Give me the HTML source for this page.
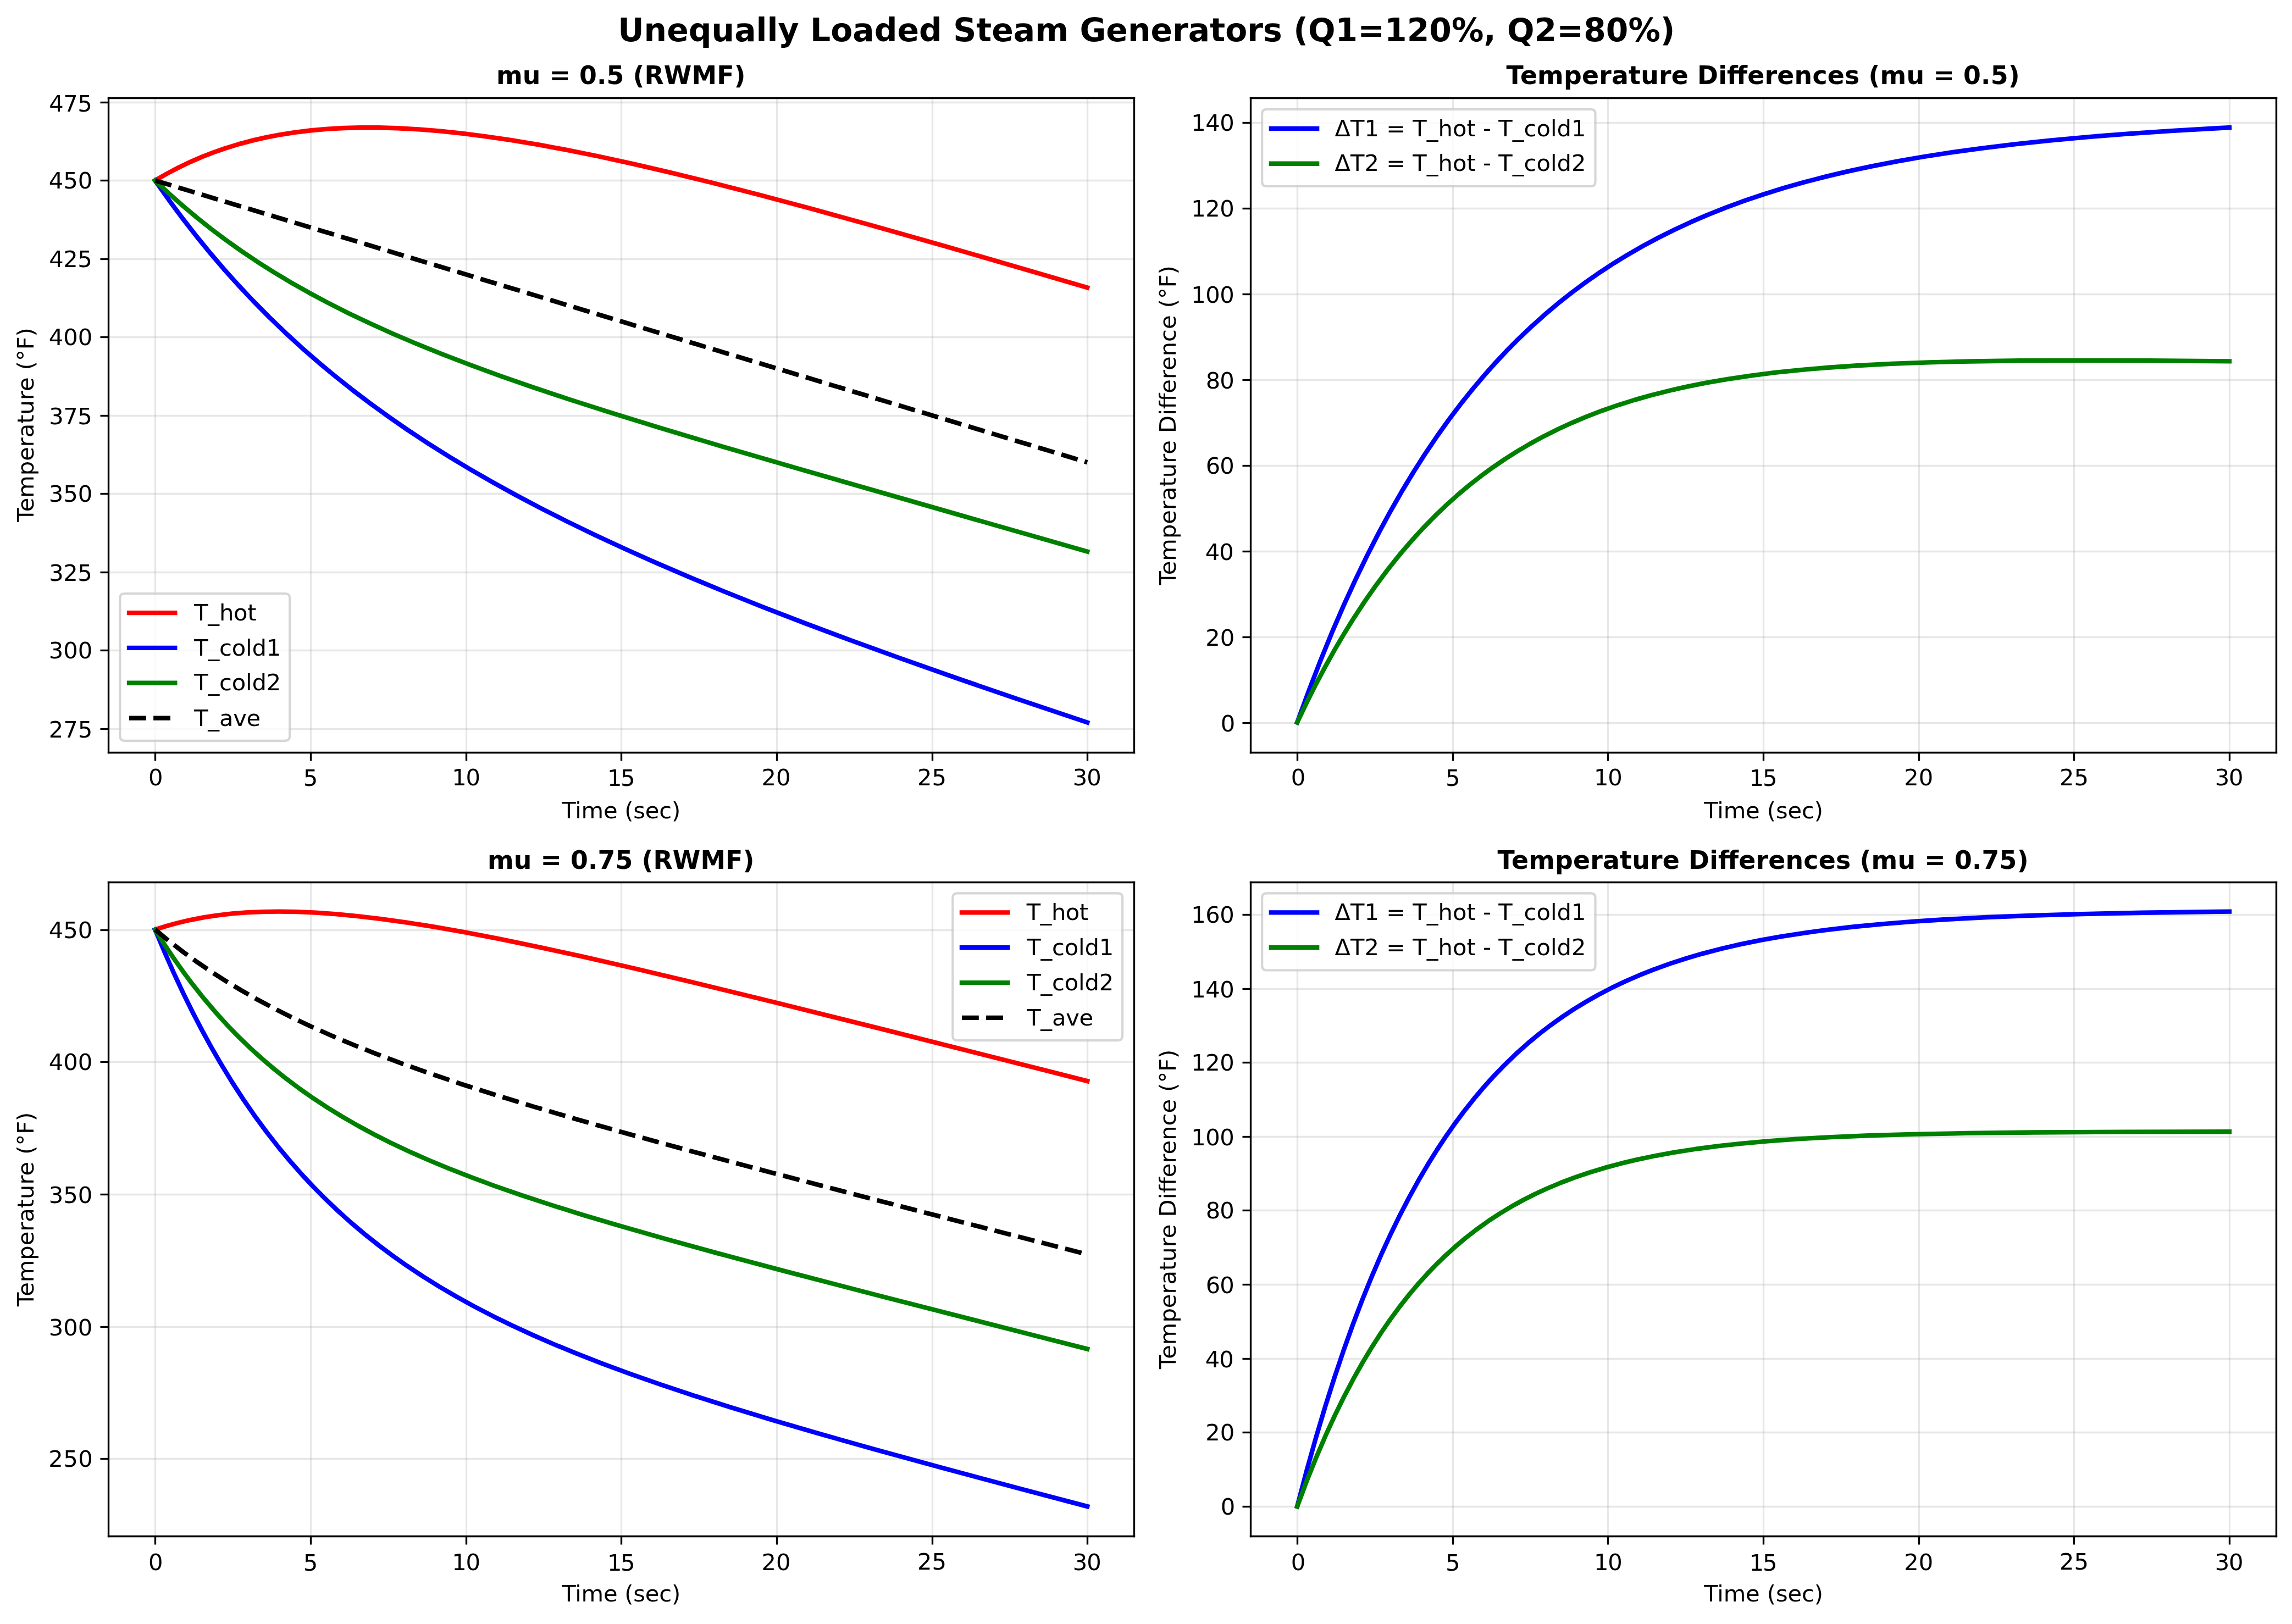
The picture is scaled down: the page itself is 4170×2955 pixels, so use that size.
<!DOCTYPE html>
<html lang="en"><head><meta charset="utf-8"><title>Unequally Loaded Steam Generators</title>
<style>
html,body{margin:0;padding:0;background:#fff;}
body{width:4170px;height:2955px;overflow:hidden;font-family:"DejaVu Sans","Liberation Sans",sans-serif;}
svg{display:block;will-change:transform;}
svg text{font-family:"DejaVu Sans","Liberation Sans",sans-serif;}
</style></head><body>
<svg width="4170" height="2955" viewBox="0 0 1000.8 709.2">
 <defs>
  <style type="text/css">*{stroke-linejoin: round; stroke-linecap: butt}</style>
 </defs>
 <g id="figure_1">
  <g id="patch_1">
   <path d="M 0 709.2 L 1001.01 709.2 L 1001.01 0 L 0 0 z" style="fill: #ffffff"/>
  </g>
  <g id="axes_1">
   <g id="patch_2">
    <path d="M 47.39 328.48 L 495.12 328.48 L 495.12 42.72 L 47.39 42.72 z" style="fill: #ffffff"/>
   </g>
   <g id="matplotlib.axis_1">
    <g id="xtick_1">
     <g id="line2d_1">
      <path d="M 67.800000 328.680000 L 67.800000 42.840000" clip-path="url(#p51428ca9a6)" style="fill: none; stroke: #b0b0b0; stroke-opacity: 0.3; stroke-width: 0.8; stroke-linecap: square"/>
     </g>
     <g id="line2d_2">
      <defs>
       <path id="m1504cfccaf" d="M 0.120000 0.120000 L 0.120000 3.720000" style="stroke: #000000; stroke-width: 0.8"/>
      </defs>
      <g>
       <use href="#m1504cfccaf" x="67.680000" y="328.560000" style="stroke: #000000; stroke-width: 0.8"/>
      </g>
     </g>
     <g id="text_1">
      <text style="font-size: 10px; text-anchor: middle" x="67.9814" y="343.0400">0</text>
     </g>
    </g>
    <g id="xtick_2">
     <g id="line2d_3">
      <path d="M 135.720000 328.680000 L 135.720000 42.840000" clip-path="url(#p51428ca9a6)" style="fill: none; stroke: #b0b0b0; stroke-opacity: 0.3; stroke-width: 0.8; stroke-linecap: square"/>
     </g>
     <g id="line2d_4">
      <g>
       <use href="#m1504cfccaf" x="135.600000" y="328.560000" style="stroke: #000000; stroke-width: 0.8"/>
      </g>
     </g>
     <g id="text_2">
      <text style="font-size: 10px; text-anchor: middle" x="135.5792" y="343.2800">5</text>
     </g>
    </g>
    <g id="xtick_3">
     <g id="line2d_5">
      <path d="M 203.640000 328.680000 L 203.640000 42.840000" clip-path="url(#p51428ca9a6)" style="fill: none; stroke: #b0b0b0; stroke-opacity: 0.3; stroke-width: 0.8; stroke-linecap: square"/>
     </g>
     <g id="line2d_6">
      <g>
       <use href="#m1504cfccaf" x="203.520000" y="328.560000" style="stroke: #000000; stroke-width: 0.8"/>
      </g>
     </g>
     <g id="text_3">
      <text style="font-size: 10px; text-anchor: middle" x="203.5371" y="343.0400" textLength="12.4410" lengthAdjust="spacing">10</text>
     </g>
    </g>
    <g id="xtick_4">
     <g id="line2d_7">
      <path d="M 271.320000 328.680000 L 271.320000 42.840000" clip-path="url(#p51428ca9a6)" style="fill: none; stroke: #b0b0b0; stroke-opacity: 0.3; stroke-width: 0.8; stroke-linecap: square"/>
     </g>
     <g id="line2d_8">
      <g>
       <use href="#m1504cfccaf" x="271.200000" y="328.560000" style="stroke: #000000; stroke-width: 0.8"/>
      </g>
     </g>
     <g id="text_4">
      <text style="font-size: 10px; text-anchor: middle" x="271.2550" y="343.2800" textLength="12.1648" lengthAdjust="spacing">15</text>
     </g>
    </g>
    <g id="xtick_5">
     <g id="line2d_9">
      <path d="M 339.240000 328.680000 L 339.240000 42.840000" clip-path="url(#p51428ca9a6)" style="fill: none; stroke: #b0b0b0; stroke-opacity: 0.3; stroke-width: 0.8; stroke-linecap: square"/>
     </g>
     <g id="line2d_10">
      <g>
       <use href="#m1504cfccaf" x="339.120000" y="328.560000" style="stroke: #000000; stroke-width: 0.8"/>
      </g>
     </g>
     <g id="text_5">
      <text style="font-size: 10px; text-anchor: middle" x="338.8529" y="343.0400">20</text>
     </g>
    </g>
    <g id="xtick_6">
     <g id="line2d_11">
      <path d="M 407.160000 328.680000 L 407.160000 42.840000" clip-path="url(#p51428ca9a6)" style="fill: none; stroke: #b0b0b0; stroke-opacity: 0.3; stroke-width: 0.8; stroke-linecap: square"/>
     </g>
     <g id="line2d_12">
      <g>
       <use href="#m1504cfccaf" x="407.040000" y="328.560000" style="stroke: #000000; stroke-width: 0.8"/>
      </g>
     </g>
     <g id="text_6">
      <text style="font-size: 10px; text-anchor: middle" x="406.9308" y="342.9200">25</text>
     </g>
    </g>
    <g id="xtick_7">
     <g id="line2d_13">
      <path d="M 474.840000 328.680000 L 474.840000 42.840000" clip-path="url(#p51428ca9a6)" style="fill: none; stroke: #b0b0b0; stroke-opacity: 0.3; stroke-width: 0.8; stroke-linecap: square"/>
     </g>
     <g id="line2d_14">
      <g>
       <use href="#m1504cfccaf" x="474.720000" y="328.560000" style="stroke: #000000; stroke-width: 0.8"/>
      </g>
     </g>
     <g id="text_7">
      <text style="font-size: 10px; text-anchor: middle" x="474.6486" y="343.0400" textLength="12.4530" lengthAdjust="spacing">30</text>
     </g>
    </g>
    <g id="text_8">
     <text style="font-size: 10px; text-anchor: middle" x="271.2550" y="357.3600" textLength="51.8184" lengthAdjust="spacing">Time (sec)</text>
    </g>
   </g>
   <g id="matplotlib.axis_2">
    <g id="ytick_1">
     <g id="line2d_15">
      <path d="M 47.400000 318.360000 L 495.240000 318.360000" clip-path="url(#p51428ca9a6)" style="fill: none; stroke: #b0b0b0; stroke-opacity: 0.3; stroke-width: 0.8; stroke-linecap: square"/>
     </g>
     <g id="line2d_16">
      <defs>
       <path id="m5d545ce8f8" d="M 0.120000 0.120000 L -3.480000 0.120000" style="stroke: #000000; stroke-width: 0.8"/>
      </defs>
      <g>
       <use href="#m5d545ce8f8" x="47.280000" y="318.240000" style="stroke: #000000; stroke-width: 0.8"/>
      </g>
     </g>
     <g id="text_9">
      <text style="font-size: 10px; text-anchor: end" x="40.3900" y="321.9763">275</text>
     </g>
    </g>
    <g id="ytick_2">
     <g id="line2d_17">
      <path d="M 47.400000 284.040000 L 495.240000 284.040000" clip-path="url(#p51428ca9a6)" style="fill: none; stroke: #b0b0b0; stroke-opacity: 0.3; stroke-width: 0.8; stroke-linecap: square"/>
     </g>
     <g id="line2d_18">
      <g>
       <use href="#m5d545ce8f8" x="47.280000" y="283.920000" style="stroke: #000000; stroke-width: 0.8"/>
      </g>
     </g>
     <g id="text_10">
      <text style="font-size: 10px; text-anchor: end" x="40.3900" y="287.5484">300</text>
     </g>
    </g>
    <g id="ytick_3">
     <g id="line2d_19">
      <path d="M 47.400000 249.960000 L 495.240000 249.960000" clip-path="url(#p51428ca9a6)" style="fill: none; stroke: #b0b0b0; stroke-opacity: 0.3; stroke-width: 0.8; stroke-linecap: square"/>
     </g>
     <g id="line2d_20">
      <g>
       <use href="#m5d545ce8f8" x="47.280000" y="249.840000" style="stroke: #000000; stroke-width: 0.8"/>
      </g>
     </g>
     <g id="text_11">
      <text style="font-size: 10px; text-anchor: end" x="40.2700" y="253.6005" textLength="18.8223" lengthAdjust="spacing">325</text>
     </g>
    </g>
    <g id="ytick_4">
     <g id="line2d_21">
      <path d="M 47.400000 215.640000 L 495.240000 215.640000" clip-path="url(#p51428ca9a6)" style="fill: none; stroke: #b0b0b0; stroke-opacity: 0.3; stroke-width: 0.8; stroke-linecap: square"/>
     </g>
     <g id="line2d_22">
      <g>
       <use href="#m5d545ce8f8" x="47.280000" y="215.520000" style="stroke: #000000; stroke-width: 0.8"/>
      </g>
     </g>
     <g id="text_12">
      <text style="font-size: 10px; text-anchor: end" x="40.3900" y="219.1727">350</text>
     </g>
    </g>
    <g id="ytick_5">
     <g id="line2d_23">
      <path d="M 47.400000 181.560000 L 495.240000 181.560000" clip-path="url(#p51428ca9a6)" style="fill: none; stroke: #b0b0b0; stroke-opacity: 0.3; stroke-width: 0.8; stroke-linecap: square"/>
     </g>
     <g id="line2d_24">
      <g>
       <use href="#m5d545ce8f8" x="47.280000" y="181.440000" style="stroke: #000000; stroke-width: 0.8"/>
      </g>
     </g>
     <g id="text_13">
      <text style="font-size: 10px; text-anchor: end" x="40.2700" y="185.2248" textLength="18.8223" lengthAdjust="spacing">375</text>
     </g>
    </g>
    <g id="ytick_6">
     <g id="line2d_25">
      <path d="M 47.400000 147.240000 L 495.240000 147.240000" clip-path="url(#p51428ca9a6)" style="fill: none; stroke: #b0b0b0; stroke-opacity: 0.3; stroke-width: 0.8; stroke-linecap: square"/>
     </g>
     <g id="line2d_26">
      <g>
       <use href="#m5d545ce8f8" x="47.280000" y="147.120000" style="stroke: #000000; stroke-width: 0.8"/>
      </g>
     </g>
     <g id="text_14">
      <text style="font-size: 10px; text-anchor: end" x="40.3900" y="150.7969">400</text>
     </g>
    </g>
    <g id="ytick_7">
     <g id="line2d_27">
      <path d="M 47.400000 113.160000 L 495.240000 113.160000" clip-path="url(#p51428ca9a6)" style="fill: none; stroke: #b0b0b0; stroke-opacity: 0.3; stroke-width: 0.8; stroke-linecap: square"/>
     </g>
     <g id="line2d_28">
      <g>
       <use href="#m5d545ce8f8" x="47.280000" y="113.040000" style="stroke: #000000; stroke-width: 0.8"/>
      </g>
     </g>
     <g id="text_15">
      <text style="font-size: 10px; text-anchor: end" x="40.2700" y="116.7290" textLength="18.8259" lengthAdjust="spacing">425</text>
     </g>
    </g>
    <g id="ytick_8">
     <g id="line2d_29">
      <path d="M 47.400000 78.840000 L 495.240000 78.840000" clip-path="url(#p51428ca9a6)" style="fill: none; stroke: #b0b0b0; stroke-opacity: 0.3; stroke-width: 0.8; stroke-linecap: square"/>
     </g>
     <g id="line2d_30">
      <g>
       <use href="#m5d545ce8f8" x="47.280000" y="78.720000" style="stroke: #000000; stroke-width: 0.8"/>
      </g>
     </g>
     <g id="text_16">
      <text style="font-size: 10px; text-anchor: end" x="40.3900" y="82.3011">450</text>
     </g>
    </g>
    <g id="ytick_9">
     <g id="line2d_31">
      <path d="M 47.400000 44.760000 L 495.240000 44.760000" clip-path="url(#p51428ca9a6)" style="fill: none; stroke: #b0b0b0; stroke-opacity: 0.3; stroke-width: 0.8; stroke-linecap: square"/>
     </g>
     <g id="line2d_32">
      <g>
       <use href="#m5d545ce8f8" x="47.280000" y="44.640000" style="stroke: #000000; stroke-width: 0.8"/>
      </g>
     </g>
     <g id="text_17">
      <text style="font-size: 10px; text-anchor: end" x="40.2700" y="48.7132" textLength="18.8259" lengthAdjust="spacing">475</text>
     </g>
    </g>
    <g id="text_18">
     <text style="font-size: 10px; text-anchor: middle" x="14.6400" y="185.4800" transform="rotate(-90 14.6400 185.4800)" textLength="84.8152" lengthAdjust="spacing">Temperature (°F)</text>
    </g>
   </g>
   <g id="line2d_33">
    <path d="M 67.741364 78.821124 L 72.829205 75.879947 L 77.917045 73.199643 L 83.004886 70.765021 L 88.092727 68.561773 L 93.180568 66.576425 L 98.268409 64.796287 L 104.373818 62.914222 L 110.479227 61.291153 L 116.584636 59.909087 L 122.690045 58.751282 L 128.795455 57.802158 L 135.918432 56.939315 L 143.041409 56.319521 L 150.164386 55.923195 L 157.287364 55.732333 L 165.427909 55.744619 L 173.568455 55.981099 L 182.726568 56.489643 L 191.884682 57.229617 L 202.060364 58.294509 L 212.236045 59.586919 L 223.429295 61.240737 L 235.640114 63.288056 L 247.850932 65.555986 L 261.079318 68.227647 L 276.342841 71.546921 L 292.623932 75.321912 L 310.940159 79.806692 L 331.291523 85.028039 L 354.695591 91.275803 L 381.152364 98.576623 L 412.696977 107.521889 L 451.364568 118.732145 L 474.768636 125.607823 L 474.768636 125.607823" clip-path="url(#p51428ca9a6)" style="fill: none; stroke: #ff0000; stroke-width: 2; stroke-linecap: square"/>
   </g>
   <g id="line2d_34">
    <path d="M 67.741364 78.821124 L 73.846773 87.461672 L 79.952182 95.679699 L 86.057591 103.502809 L 92.163 110.956748 L 98.268409 118.065534 L 104.373818 124.851573 L 110.479227 131.335773 L 117.602205 138.545131 L 124.725182 145.398896 L 131.848159 151.92359 L 138.971136 158.143687 L 146.094114 164.081771 L 153.217091 169.758688 L 161.357636 175.951414 L 169.498182 181.854487 L 177.638727 187.491987 L 186.796841 193.544041 L 195.954955 199.316208 L 205.113068 204.834187 L 215.28875 210.695324 L 225.464432 216.299911 L 236.657682 222.199133 L 247.850932 227.849212 L 260.06175 233.760267 L 273.290136 239.900873 L 286.518523 245.801027 L 300.764477 251.919965 L 316.028 258.240684 L 333.326659 265.151134 L 351.642886 272.218823 L 371.99425 279.819459 L 393.363182 287.562468 L 417.784818 296.167416 L 444.241591 305.251866 L 474.768636 315.490909 L 474.768636 315.490909" clip-path="url(#p51428ca9a6)" style="fill: none; stroke: #0000ff; stroke-width: 2; stroke-linecap: square"/>
   </g>
   <g id="line2d_35">
    <path d="M 67.741364 78.821124 L 73.846773 84.560375 L 79.952182 89.979695 L 86.057591 95.103059 L 92.163 99.952714 L 98.268409 104.549302 L 105.391386 109.617612 L 112.514364 114.395522 L 119.637341 118.908713 L 126.760318 123.180707 L 134.900864 127.795183 L 143.041409 132.151942 L 152.199523 136.778054 L 161.357636 141.145172 L 171.533318 145.730307 L 181.709 150.069447 L 192.90225 154.596699 L 205.113068 159.284279 L 218.341455 164.113634 L 232.587409 169.075348 L 248.8685 174.501042 L 267.184727 180.361209 L 288.553659 186.955225 L 315.010432 194.868625 L 349.60775 204.963879 L 408.626705 221.91083 L 474.768636 240.883478 L 474.768636 240.883478" clip-path="url(#p51428ca9a6)" style="fill: none; stroke: #008000; stroke-width: 2; stroke-linecap: square"/>
   </g>
   <g id="line2d_36">
    <path d="M 67.741364 78.821124 L 474.768636 201.897508 L 474.768636 201.897508" clip-path="url(#p51428ca9a6)" style="fill: none; stroke-dasharray: 7.4,3.2; stroke-dashoffset: 0; stroke: #000000; stroke-width: 2"/>
   </g>
   <g id="patch_3">
    <path d="M 47.400000 328.680000 L 47.400000 42.840000" style="fill: none; stroke: #000000; stroke-width: 0.8; stroke-linejoin: miter; stroke-linecap: square"/>
   </g>
   <g id="patch_4">
    <path d="M 495.240000 328.680000 L 495.240000 42.840000" style="fill: none; stroke: #000000; stroke-width: 0.8; stroke-linejoin: miter; stroke-linecap: square"/>
   </g>
   <g id="patch_5">
    <path d="M 47.400000 328.680000 L 495.240000 328.680000" style="fill: none; stroke: #000000; stroke-width: 0.8; stroke-linejoin: miter; stroke-linecap: square"/>
   </g>
   <g id="patch_6">
    <path d="M 47.400000 42.840000 L 495.240000 42.840000" style="fill: none; stroke: #000000; stroke-width: 0.8; stroke-linejoin: miter; stroke-linecap: square"/>
   </g>
   <g id="text_19">
    <text style="font-weight: 700; font-size: 11px; text-anchor: middle" x="271.1350" y="36.7200" textLength="108.8365" lengthAdjust="spacing">mu = 0.5 (RWMF)</text>
   </g>
   <g id="legend_1">
    <g id="patch_7">
     <path d="M 54.39 323.48 L 124.52 323.48 
Q 126.52 323.48 126.52 321.48 L 126.52 261.2 
Q 126.52 259.2 124.52 259.2 L 54.39 259.2 
Q 52.39 259.2 52.39 261.2 L 52.39 321.48 
Q 52.39 323.48 54.39 323.48 z" style="fill: #ffffff; opacity: 0.8; stroke: #cccccc; stroke-linejoin: miter"/>
    </g>
    <g id="line2d_37">
     <path d="M 56.39 267.62 L 76.39 267.62 L 76.39 267.62" style="fill: none; stroke: #ff0000; stroke-width: 2; stroke-linecap: square"/>
    </g>
    <g id="text_20">
     <text style="font-size: 10px; text-anchor: start" x="84.7500" y="270.8800" textLength="27.2411" lengthAdjust="spacing">T_hot</text>
    </g>
    <g id="line2d_38">
     <path d="M 56.39 282.94 L 76.39 282.94 L 76.39 282.94" style="fill: none; stroke: #0000ff; stroke-width: 2; stroke-linecap: square"/>
    </g>
    <g id="text_21">
     <text style="font-size: 10px; text-anchor: start" x="84.7500" y="286.2000" textLength="37.9617" lengthAdjust="spacing">T_cold1</text>
    </g>
    <g id="line2d_39">
     <path d="M 56.39 298.26 L 76.39 298.26 L 76.39 298.26" style="fill: none; stroke: #008000; stroke-width: 2; stroke-linecap: square"/>
    </g>
    <g id="text_22">
     <text style="font-size: 10px; text-anchor: start" x="84.7500" y="301.5200" textLength="37.9617" lengthAdjust="spacing">T_cold2</text>
    </g>
    <g id="line2d_40">
     <path d="M 56.39 313.58 L 76.39 313.58 L 76.39 313.58" style="fill: none; stroke-dasharray: 7.4,3.2; stroke-dashoffset: 0; stroke: #000000; stroke-width: 2"/>
    </g>
    <g id="text_23">
     <text style="font-size: 10px; text-anchor: start" x="84.7500" y="316.9600" textLength="29.0583" lengthAdjust="spacing">T_ave</text>
    </g>
   </g>
  </g>
  <g id="axes_2">
   <g id="patch_8">
    <path d="M 546.08 328.48 L 993.81 328.48 L 993.81 42.72 L 546.08 42.72 z" style="fill: #ffffff"/>
   </g>
   <g id="matplotlib.axis_3">
    <g id="xtick_8">
     <g id="line2d_41">
      <path d="M 566.520000 328.680000 L 566.520000 42.840000" clip-path="url(#p2e50a3cce2)" style="fill: none; stroke: #b0b0b0; stroke-opacity: 0.3; stroke-width: 0.8; stroke-linecap: square"/>
     </g>
     <g id="line2d_42">
      <g>
       <use href="#m1504cfccaf" x="566.400000" y="328.560000" style="stroke: #000000; stroke-width: 0.8"/>
      </g>
     </g>
     <g id="text_24">
      <text style="font-size: 10px; text-anchor: middle" x="566.9114" y="343.0400">0</text>
     </g>
    </g>
    <g id="xtick_9">
     <g id="line2d_43">
      <path d="M 634.440000 328.680000 L 634.440000 42.840000" clip-path="url(#p2e50a3cce2)" style="fill: none; stroke: #b0b0b0; stroke-opacity: 0.3; stroke-width: 0.8; stroke-linecap: square"/>
     </g>
     <g id="line2d_44">
      <g>
       <use href="#m1504cfccaf" x="634.320000" y="328.560000" style="stroke: #000000; stroke-width: 0.8"/>
      </g>
     </g>
     <g id="text_25">
      <text style="font-size: 10px; text-anchor: middle" x="634.3892" y="343.2800">5</text>
     </g>
    </g>
    <g id="xtick_10">
     <g id="line2d_45">
      <path d="M 702.120000 328.680000 L 702.120000 42.840000" clip-path="url(#p2e50a3cce2)" style="fill: none; stroke: #b0b0b0; stroke-opacity: 0.3; stroke-width: 0.8; stroke-linecap: square"/>
     </g>
     <g id="line2d_46">
      <g>
       <use href="#m1504cfccaf" x="702.000000" y="328.560000" style="stroke: #000000; stroke-width: 0.8"/>
      </g>
     </g>
     <g id="text_26">
      <text style="font-size: 10px; text-anchor: middle" x="702.2271" y="343.0400" textLength="12.4410" lengthAdjust="spacing">10</text>
     </g>
    </g>
    <g id="xtick_11">
     <g id="line2d_47">
      <path d="M 770.040000 328.680000 L 770.040000 42.840000" clip-path="url(#p2e50a3cce2)" style="fill: none; stroke: #b0b0b0; stroke-opacity: 0.3; stroke-width: 0.8; stroke-linecap: square"/>
     </g>
     <g id="line2d_48">
      <g>
       <use href="#m1504cfccaf" x="769.920000" y="328.560000" style="stroke: #000000; stroke-width: 0.8"/>
      </g>
     </g>
     <g id="text_27">
      <text style="font-size: 10px; text-anchor: middle" x="769.9450" y="343.2800" textLength="12.1583" lengthAdjust="spacing">15</text>
     </g>
    </g>
    <g id="xtick_12">
     <g id="line2d_49">
      <path d="M 837.960000 328.680000 L 837.960000 42.840000" clip-path="url(#p2e50a3cce2)" style="fill: none; stroke: #b0b0b0; stroke-opacity: 0.3; stroke-width: 0.8; stroke-linecap: square"/>
     </g>
     <g id="line2d_50">
      <g>
       <use href="#m1504cfccaf" x="837.840000" y="328.560000" style="stroke: #000000; stroke-width: 0.8"/>
      </g>
     </g>
     <g id="text_28">
      <text style="font-size: 10px; text-anchor: middle" x="837.7829" y="343.0400">20</text>
     </g>
    </g>
    <g id="xtick_13">
     <g id="line2d_51">
      <path d="M 905.640000 328.680000 L 905.640000 42.840000" clip-path="url(#p2e50a3cce2)" style="fill: none; stroke: #b0b0b0; stroke-opacity: 0.3; stroke-width: 0.8; stroke-linecap: square"/>
     </g>
     <g id="line2d_52">
      <g>
       <use href="#m1504cfccaf" x="905.520000" y="328.560000" style="stroke: #000000; stroke-width: 0.8"/>
      </g>
     </g>
     <g id="text_29">
      <text style="font-size: 10px; text-anchor: middle" x="905.6208" y="342.9200">25</text>
     </g>
    </g>
    <g id="xtick_14">
     <g id="line2d_53">
      <path d="M 973.560000 328.680000 L 973.560000 42.840000" clip-path="url(#p2e50a3cce2)" style="fill: none; stroke: #b0b0b0; stroke-opacity: 0.3; stroke-width: 0.8; stroke-linecap: square"/>
     </g>
     <g id="line2d_54">
      <g>
       <use href="#m1504cfccaf" x="973.440000" y="328.560000" style="stroke: #000000; stroke-width: 0.8"/>
      </g>
     </g>
     <g id="text_30">
      <text style="font-size: 10px; text-anchor: middle" x="973.3386" y="343.0400" textLength="12.4530" lengthAdjust="spacing">30</text>
     </g>
    </g>
    <g id="text_31">
     <text style="font-size: 10px; text-anchor: middle" x="770.0650" y="357.3600" textLength="52.0606" lengthAdjust="spacing">Time (sec)</text>
    </g>
   </g>
   <g id="matplotlib.axis_4">
    <g id="ytick_10">
     <g id="line2d_55">
      <path d="M 546.120000 315.720000 L 993.960000 315.720000" clip-path="url(#p2e50a3cce2)" style="fill: none; stroke: #b0b0b0; stroke-opacity: 0.3; stroke-width: 0.8; stroke-linecap: square"/>
     </g>
     <g id="line2d_56">
      <g>
       <use href="#m5d545ce8f8" x="546.000000" y="315.600000" style="stroke: #000000; stroke-width: 0.8"/>
      </g>
     </g>
     <g id="text_32">
      <text style="font-size: 10px; text-anchor: end" x="539.3200" y="319.3309">0</text>
     </g>
    </g>
    <g id="ytick_11">
     <g id="line2d_57">
      <path d="M 546.120000 278.280000 L 993.960000 278.280000" clip-path="url(#p2e50a3cce2)" style="fill: none; stroke: #b0b0b0; stroke-opacity: 0.3; stroke-width: 0.8; stroke-linecap: square"/>
     </g>
     <g id="line2d_58">
      <g>
       <use href="#m5d545ce8f8" x="546.000000" y="278.160000" style="stroke: #000000; stroke-width: 0.8"/>
      </g>
     </g>
     <g id="text_33">
      <text style="font-size: 10px; text-anchor: end" x="539.0800" y="281.9126">20</text>
     </g>
    </g>
    <g id="ytick_12">
     <g id="line2d_59">
      <path d="M 546.120000 240.840000 L 993.960000 240.840000" clip-path="url(#p2e50a3cce2)" style="fill: none; stroke: #b0b0b0; stroke-opacity: 0.3; stroke-width: 0.8; stroke-linecap: square"/>
     </g>
     <g id="line2d_60">
      <g>
       <use href="#m5d545ce8f8" x="546.000000" y="240.720000" style="stroke: #000000; stroke-width: 0.8"/>
      </g>
     </g>
     <g id="text_34">
      <text style="font-size: 10px; text-anchor: end" x="538.7200" y="244.4942" textLength="12.4587" lengthAdjust="spacing">40</text>
     </g>
    </g>
    <g id="ytick_13">
     <g id="line2d_61">
      <path d="M 546.120000 203.400000 L 993.960000 203.400000" clip-path="url(#p2e50a3cce2)" style="fill: none; stroke: #b0b0b0; stroke-opacity: 0.3; stroke-width: 0.8; stroke-linecap: square"/>
     </g>
     <g id="line2d_62">
      <g>
       <use href="#m5d545ce8f8" x="546.000000" y="203.280000" style="stroke: #000000; stroke-width: 0.8"/>
      </g>
     </g>
     <g id="text_35">
      <text style="font-size: 10px; text-anchor: end" x="538.9600" y="206.9558" textLength="12.4530" lengthAdjust="spacing">60</text>
     </g>
    </g>
    <g id="ytick_14">
     <g id="line2d_63">
      <path d="M 546.120000 165.960000 L 993.960000 165.960000" clip-path="url(#p2e50a3cce2)" style="fill: none; stroke: #b0b0b0; stroke-opacity: 0.3; stroke-width: 0.8; stroke-linecap: square"/>
     </g>
     <g id="line2d_64">
      <g>
       <use href="#m5d545ce8f8" x="546.000000" y="165.840000" style="stroke: #000000; stroke-width: 0.8"/>
      </g>
     </g>
     <g id="text_36">
      <text style="font-size: 10px; text-anchor: end" x="538.9600" y="169.6575" textLength="12.4530" lengthAdjust="spacing">80</text>
     </g>
    </g>
    <g id="ytick_15">
     <g id="line2d_65">
      <path d="M 546.120000 128.520000 L 993.960000 128.520000" clip-path="url(#p2e50a3cce2)" style="fill: none; stroke: #b0b0b0; stroke-opacity: 0.3; stroke-width: 0.8; stroke-linecap: square"/>
     </g>
     <g id="line2d_66">
      <g>
       <use href="#m5d545ce8f8" x="546.000000" y="128.400000" style="stroke: #000000; stroke-width: 0.8"/>
      </g>
     </g>
     <g id="text_37">
      <text style="font-size: 10px; text-anchor: end" x="538.9600" y="132.2391" textLength="18.8187" lengthAdjust="spacing">100</text>
     </g>
    </g>
    <g id="ytick_16">
     <g id="line2d_67">
      <path d="M 546.120000 91.080000 L 993.960000 91.080000" clip-path="url(#p2e50a3cce2)" style="fill: none; stroke: #b0b0b0; stroke-opacity: 0.3; stroke-width: 0.8; stroke-linecap: square"/>
     </g>
     <g id="line2d_68">
      <g>
       <use href="#m5d545ce8f8" x="546.000000" y="90.960000" style="stroke: #000000; stroke-width: 0.8"/>
      </g>
     </g>
     <g id="text_38">
      <text style="font-size: 10px; text-anchor: end" x="538.9600" y="94.5808" textLength="18.8187" lengthAdjust="spacing">120</text>
     </g>
    </g>
    <g id="ytick_17">
     <g id="line2d_69">
      <path d="M 546.120000 53.640000 L 993.960000 53.640000" clip-path="url(#p2e50a3cce2)" style="fill: none; stroke: #b0b0b0; stroke-opacity: 0.3; stroke-width: 0.8; stroke-linecap: square"/>
     </g>
     <g id="line2d_70">
      <g>
       <use href="#m5d545ce8f8" x="546.000000" y="53.520000" style="stroke: #000000; stroke-width: 0.8"/>
      </g>
     </g>
     <g id="text_39">
      <text style="font-size: 10px; text-anchor: end" x="538.9600" y="57.1624" textLength="18.8187" lengthAdjust="spacing">140</text>
     </g>
    </g>
    <g id="text_40">
     <text style="font-size: 10px; text-anchor: middle" x="513.3600" y="185.7200" transform="rotate(-90 513.3600 185.7200)" textLength="139.5361" lengthAdjust="spacing">Temperature Difference (°F)</text>
    </g>
   </g>
   <g id="line2d_71">
    <path d="M 566.431364 315.490909 L 571.519205 301.574791 L 576.607045 288.421508 L 581.694886 275.988042 L 586.782727 264.233839 L 591.870568 253.120666 L 596.958409 242.612477 L 602.04625 232.675287 L 607.134091 223.277055 L 612.221932 214.387569 L 617.309773 205.978341 L 622.397614 198.022509 L 627.485455 190.494744 L 632.573295 183.371157 L 637.661136 176.629222 L 642.748977 170.247696 L 647.836818 164.20654 L 652.924659 158.486858 L 658.0125 153.070824 L 663.100341 147.941627 L 668.188182 143.083405 L 674.293591 137.590222 L 680.399 132.441494 L 686.504409 127.614605 L 692.609818 123.088465 L 698.715227 118.843403 L 704.820636 114.861072 L 710.926045 111.124358 L 717.031455 107.617296 L 724.154432 103.796161 L 731.277409 100.245428 L 738.400386 96.94485 L 745.523364 93.875751 L 753.663909 90.629607 L 761.804455 87.63973 L 769.945 84.884577 L 779.103114 82.041187 L 788.261227 79.444621 L 797.419341 77.071939 L 807.595023 74.673079 L 817.770705 72.499562 L 828.963955 70.341819 L 840.157205 68.402206 L 852.368023 66.507077 L 865.596409 64.683434 L 879.842364 62.952757 L 895.105886 61.330999 L 911.386977 59.82886 L 928.685636 58.452258 L 948.019432 57.139134 L 969.388364 55.917944 L 973.458636 55.709091 L 973.458636 55.709091" clip-path="url(#p2e50a3cce2)" style="fill: none; stroke: #0000ff; stroke-width: 2; stroke-linecap: square"/>
   </g>
   <g id="line2d_72">
    <path d="M 566.431364 315.490909 L 570.501636 306.957615 L 574.571909 298.855061 L 578.642182 291.162327 L 582.712455 283.859494 L 586.782727 276.927593 L 590.853 270.348558 L 595.940841 262.594858 L 601.028682 255.333893 L 606.116523 248.535753 L 611.204364 242.172303 L 616.292205 236.217082 L 621.380045 230.645203 L 626.467886 225.433263 L 631.555727 220.559252 L 636.643568 216.002475 L 641.731409 211.743469 L 646.81925 207.763937 L 651.907091 204.046673 L 656.994932 200.575503 L 662.082773 197.33522 L 668.188182 193.731583 L 674.293591 190.416802 L 680.399 187.369447 L 686.504409 184.569628 L 692.609818 181.998881 L 699.732795 179.266406 L 706.855773 176.797349 L 713.97875 174.568706 L 721.101727 172.559402 L 729.242273 170.50694 L 737.382818 168.689556 L 745.523364 167.083518 L 754.681477 165.50272 L 764.857159 163.994939 L 775.032841 162.716734 L 786.226091 161.540889 L 798.436909 160.494372 L 811.665295 159.595789 L 825.91125 158.855424 L 842.192341 158.243898 L 860.508568 157.791953 L 881.8775 157.503399 L 907.316705 157.398452 L 938.861318 157.501032 L 973.458636 157.780605 L 973.458636 157.780605" clip-path="url(#p2e50a3cce2)" style="fill: none; stroke: #008000; stroke-width: 2; stroke-linecap: square"/>
   </g>
   <g id="patch_9">
    <path d="M 546.120000 328.680000 L 546.120000 42.840000" style="fill: none; stroke: #000000; stroke-width: 0.8; stroke-linejoin: miter; stroke-linecap: square"/>
   </g>
   <g id="patch_10">
    <path d="M 993.960000 328.680000 L 993.960000 42.840000" style="fill: none; stroke: #000000; stroke-width: 0.8; stroke-linejoin: miter; stroke-linecap: square"/>
   </g>
   <g id="patch_11">
    <path d="M 546.120000 328.680000 L 993.960000 328.680000" style="fill: none; stroke: #000000; stroke-width: 0.8; stroke-linejoin: miter; stroke-linecap: square"/>
   </g>
   <g id="patch_12">
    <path d="M 546.120000 42.840000 L 993.960000 42.840000" style="fill: none; stroke: #000000; stroke-width: 0.8; stroke-linejoin: miter; stroke-linecap: square"/>
   </g>
   <g id="text_41">
    <text style="font-weight: 700; font-size: 11px; text-anchor: middle" x="769.8250" y="36.7200" textLength="224.1878" lengthAdjust="spacing">Temperature Differences (mu = 0.5)</text>
   </g>
   <g id="legend_2">
    <g id="patch_13">
     <path d="M 553.08 81.36 L 694.61 81.36 
Q 696.61 81.36 696.61 79.36 L 696.61 49.72 
Q 696.61 47.72 694.61 47.72 L 553.08 47.72 
Q 551.08 47.72 551.08 49.72 L 551.08 79.36 
Q 551.08 81.36 553.08 81.36 z" style="fill: #ffffff; opacity: 0.8; stroke: #cccccc; stroke-linejoin: miter"/>
    </g>
    <g id="line2d_73">
     <path d="M 555.08 56.14 L 575.08 56.14 L 575.08 56.14" style="fill: none; stroke: #0000ff; stroke-width: 2; stroke-linecap: square"/>
    </g>
    <g id="text_42">
     <text style="font-size: 10px; text-anchor: start" x="582.8400" y="59.6400">ΔT1 = T_hot - T_cold1</text>
    </g>
    <g id="line2d_74">
     <path d="M 555.08 71.46 L 575.08 71.46 L 575.08 71.46" style="fill: none; stroke: #008000; stroke-width: 2; stroke-linecap: square"/>
    </g>
    <g id="text_43">
     <text style="font-size: 10px; text-anchor: start" x="582.8400" y="74.7200">ΔT2 = T_hot - T_cold2</text>
    </g>
   </g>
  </g>
  <g id="axes_3">
   <g id="patch_14">
    <path d="M 47.39 670.84 L 495.12 670.84 L 495.12 385.08 L 47.39 385.08 z" style="fill: #ffffff"/>
   </g>
   <g id="matplotlib.axis_5">
    <g id="xtick_15">
     <g id="line2d_75">
      <path d="M 67.800000 670.920000 L 67.800000 385.320000" clip-path="url(#p50a0b3da80)" style="fill: none; stroke: #b0b0b0; stroke-opacity: 0.3; stroke-width: 0.8; stroke-linecap: square"/>
     </g>
     <g id="line2d_76">
      <g>
       <use href="#m1504cfccaf" x="67.680000" y="670.800000" style="stroke: #000000; stroke-width: 0.8"/>
      </g>
     </g>
     <g id="text_44">
      <text style="font-size: 10px; text-anchor: middle" x="67.9814" y="685.6400">0</text>
     </g>
    </g>
    <g id="xtick_16">
     <g id="line2d_77">
      <path d="M 135.720000 670.920000 L 135.720000 385.320000" clip-path="url(#p50a0b3da80)" style="fill: none; stroke: #b0b0b0; stroke-opacity: 0.3; stroke-width: 0.8; stroke-linecap: square"/>
     </g>
     <g id="line2d_78">
      <g>
       <use href="#m1504cfccaf" x="135.600000" y="670.800000" style="stroke: #000000; stroke-width: 0.8"/>
      </g>
     </g>
     <g id="text_45">
      <text style="font-size: 10px; text-anchor: middle" x="135.5792" y="685.8800">5</text>
     </g>
    </g>
    <g id="xtick_17">
     <g id="line2d_79">
      <path d="M 203.640000 670.920000 L 203.640000 385.320000" clip-path="url(#p50a0b3da80)" style="fill: none; stroke: #b0b0b0; stroke-opacity: 0.3; stroke-width: 0.8; stroke-linecap: square"/>
     </g>
     <g id="line2d_80">
      <g>
       <use href="#m1504cfccaf" x="203.520000" y="670.800000" style="stroke: #000000; stroke-width: 0.8"/>
      </g>
     </g>
     <g id="text_46">
      <text style="font-size: 10px; text-anchor: middle" x="203.5371" y="685.6400" textLength="12.4410" lengthAdjust="spacing">10</text>
     </g>
    </g>
    <g id="xtick_18">
     <g id="line2d_81">
      <path d="M 271.320000 670.920000 L 271.320000 385.320000" clip-path="url(#p50a0b3da80)" style="fill: none; stroke: #b0b0b0; stroke-opacity: 0.3; stroke-width: 0.8; stroke-linecap: square"/>
     </g>
     <g id="line2d_82">
      <g>
       <use href="#m1504cfccaf" x="271.200000" y="670.800000" style="stroke: #000000; stroke-width: 0.8"/>
      </g>
     </g>
     <g id="text_47">
      <text style="font-size: 10px; text-anchor: middle" x="271.2550" y="685.8800" textLength="12.1648" lengthAdjust="spacing">15</text>
     </g>
    </g>
    <g id="xtick_19">
     <g id="line2d_83">
      <path d="M 339.240000 670.920000 L 339.240000 385.320000" clip-path="url(#p50a0b3da80)" style="fill: none; stroke: #b0b0b0; stroke-opacity: 0.3; stroke-width: 0.8; stroke-linecap: square"/>
     </g>
     <g id="line2d_84">
      <g>
       <use href="#m1504cfccaf" x="339.120000" y="670.800000" style="stroke: #000000; stroke-width: 0.8"/>
      </g>
     </g>
     <g id="text_48">
      <text style="font-size: 10px; text-anchor: middle" x="338.8529" y="685.6400">20</text>
     </g>
    </g>
    <g id="xtick_20">
     <g id="line2d_85">
      <path d="M 407.160000 670.920000 L 407.160000 385.320000" clip-path="url(#p50a0b3da80)" style="fill: none; stroke: #b0b0b0; stroke-opacity: 0.3; stroke-width: 0.8; stroke-linecap: square"/>
     </g>
     <g id="line2d_86">
      <g>
       <use href="#m1504cfccaf" x="407.040000" y="670.800000" style="stroke: #000000; stroke-width: 0.8"/>
      </g>
     </g>
     <g id="text_49">
      <text style="font-size: 10px; text-anchor: middle" x="406.9308" y="685.5200">25</text>
     </g>
    </g>
    <g id="xtick_21">
     <g id="line2d_87">
      <path d="M 474.840000 670.920000 L 474.840000 385.320000" clip-path="url(#p50a0b3da80)" style="fill: none; stroke: #b0b0b0; stroke-opacity: 0.3; stroke-width: 0.8; stroke-linecap: square"/>
     </g>
     <g id="line2d_88">
      <g>
       <use href="#m1504cfccaf" x="474.720000" y="670.800000" style="stroke: #000000; stroke-width: 0.8"/>
      </g>
     </g>
     <g id="text_50">
      <text style="font-size: 10px; text-anchor: middle" x="474.6486" y="685.6400" textLength="12.4530" lengthAdjust="spacing">30</text>
     </g>
    </g>
    <g id="text_51">
     <text style="font-size: 10px; text-anchor: middle" x="271.2550" y="699.4800" textLength="51.8184" lengthAdjust="spacing">Time (sec)</text>
    </g>
   </g>
   <g id="matplotlib.axis_6">
    <g id="ytick_18">
     <g id="line2d_89">
      <path d="M 47.400000 637.080000 L 495.240000 637.080000" clip-path="url(#p50a0b3da80)" style="fill: none; stroke: #b0b0b0; stroke-opacity: 0.3; stroke-width: 0.8; stroke-linecap: square"/>
     </g>
     <g id="line2d_90">
      <g>
       <use href="#m5d545ce8f8" x="47.280000" y="636.960000" style="stroke: #000000; stroke-width: 0.8"/>
      </g>
     </g>
     <g id="text_52">
      <text style="font-size: 10px; text-anchor: end" x="40.5100" y="640.6244" textLength="19.3487" lengthAdjust="spacing">250</text>
     </g>
    </g>
    <g id="ytick_19">
     <g id="line2d_91">
      <path d="M 47.400000 579.480000 L 495.240000 579.480000" clip-path="url(#p50a0b3da80)" style="fill: none; stroke: #b0b0b0; stroke-opacity: 0.3; stroke-width: 0.8; stroke-linecap: square"/>
     </g>
     <g id="line2d_92">
      <g>
       <use href="#m5d545ce8f8" x="47.280000" y="579.360000" style="stroke: #000000; stroke-width: 0.8"/>
      </g>
     </g>
     <g id="text_53">
      <text style="font-size: 10px; text-anchor: end" x="40.3900" y="583.0996">300</text>
     </g>
    </g>
    <g id="ytick_20">
     <g id="line2d_93">
      <path d="M 47.400000 521.640000 L 495.240000 521.640000" clip-path="url(#p50a0b3da80)" style="fill: none; stroke: #b0b0b0; stroke-opacity: 0.3; stroke-width: 0.8; stroke-linecap: square"/>
     </g>
     <g id="line2d_94">
      <g>
       <use href="#m5d545ce8f8" x="47.280000" y="521.520000" style="stroke: #000000; stroke-width: 0.8"/>
      </g>
     </g>
     <g id="text_54">
      <text style="font-size: 10px; text-anchor: end" x="40.3900" y="525.3349">350</text>
     </g>
    </g>
    <g id="ytick_21">
     <g id="line2d_95">
      <path d="M 47.400000 463.800000 L 495.240000 463.800000" clip-path="url(#p50a0b3da80)" style="fill: none; stroke: #b0b0b0; stroke-opacity: 0.3; stroke-width: 0.8; stroke-linecap: square"/>
     </g>
     <g id="line2d_96">
      <g>
       <use href="#m5d545ce8f8" x="47.280000" y="463.680000" style="stroke: #000000; stroke-width: 0.8"/>
      </g>
     </g>
     <g id="text_55">
      <text style="font-size: 10px; text-anchor: end" x="40.3900" y="467.3301">400</text>
     </g>
    </g>
    <g id="ytick_22">
     <g id="line2d_97">
      <path d="M 47.400000 406.200000 L 495.240000 406.200000" clip-path="url(#p50a0b3da80)" style="fill: none; stroke: #b0b0b0; stroke-opacity: 0.3; stroke-width: 0.8; stroke-linecap: square"/>
     </g>
     <g id="line2d_98">
      <g>
       <use href="#m5d545ce8f8" x="47.280000" y="406.080000" style="stroke: #000000; stroke-width: 0.8"/>
      </g>
     </g>
     <g id="text_56">
      <text style="font-size: 10px; text-anchor: end" x="40.3900" y="409.6854">450</text>
     </g>
    </g>
    <g id="text_57">
     <text style="font-size: 10px; text-anchor: middle" x="14.6400" y="528.0800" transform="rotate(-90 14.6400 528.0800)" textLength="84.8152" lengthAdjust="spacing">Temperature (°F)</text>
    </g>
   </g>
   <g id="line2d_99">
    <path d="M 67.741364 405.965382 L 72.829205 404.350574 L 77.917045 402.959845 L 83.004886 401.775967 L 89.110295 400.60605 L 95.215705 399.685987 L 101.321114 398.992907 L 107.426523 398.506033 L 114.5495 398.17355 L 121.672477 398.069091 L 129.813023 398.19805 L 137.953568 398.561363 L 147.111682 399.215293 L 156.269795 400.095275 L 166.445477 401.301424 L 177.638727 402.864906 L 189.849545 404.807823 L 203.077932 407.143384 L 218.341455 410.07936 L 235.640114 413.652762 L 254.973909 417.882516 L 277.360409 423.008961 L 304.83475 429.534946 L 339.432068 437.990572 L 386.240205 449.672297 L 458.487545 467.956108 L 474.768636 472.096793 L 474.768636 472.096793" clip-path="url(#p50a0b3da80)" style="fill: none; stroke: #ff0000; stroke-width: 2; stroke-linecap: square"/>
   </g>
   <g id="line2d_100">
    <path d="M 67.741364 405.965382 L 71.811636 415.679816 L 75.881909 424.881039 L 79.952182 433.599714 L 84.022455 441.86466 L 88.092727 449.70296 L 92.163 457.140065 L 96.233273 464.199898 L 101.321114 472.528272 L 106.408955 480.343154 L 111.496795 487.682457 L 116.584636 494.581269 L 121.672477 501.072069 L 126.760318 507.184917 L 131.848159 512.94764 L 136.936 518.385995 L 142.023841 523.523829 L 147.111682 528.383218 L 153.217091 533.875606 L 159.3225 539.028844 L 165.427909 543.87253 L 171.533318 548.433651 L 177.638727 552.736819 L 184.761705 557.46099 L 191.884682 561.896803 L 199.007659 566.073245 L 207.148205 570.562015 L 215.28875 574.780627 L 223.429295 578.759772 L 232.587409 582.983774 L 241.745523 586.972994 L 251.921205 591.166031 L 263.114455 595.527651 L 275.325273 600.031508 L 288.553659 604.660183 L 302.799614 609.404626 L 319.080705 614.579909 L 337.396932 620.153216 L 357.748295 626.108282 L 382.169932 633.009975 L 410.661841 640.823553 L 446.276727 650.351851 L 474.768636 657.850909 L 474.768636 657.850909" clip-path="url(#p50a0b3da80)" style="fill: none; stroke: #0000ff; stroke-width: 2; stroke-linecap: square"/>
   </g>
   <g id="line2d_101">
    <path d="M 67.741364 405.965382 L 71.811636 412.431158 L 75.881909 418.535976 L 79.952182 424.303362 L 84.022455 429.755336 L 89.110295 436.158008 L 94.198136 442.137281 L 99.285977 447.727518 L 104.373818 452.960332 L 109.461659 457.864808 L 114.5495 462.4677 L 119.637341 466.793619 L 124.725182 470.865199 L 130.830591 475.444559 L 136.936 479.720373 L 143.041409 483.722311 L 149.146818 487.477198 L 156.269795 491.577869 L 163.392773 495.409703 L 170.51575 499.003371 L 178.656295 502.853597 L 186.796841 506.464067 L 195.954955 510.278049 L 206.130636 514.252923 L 216.306318 517.994376 L 227.499568 521.885438 L 240.727955 526.235984 L 254.973909 530.681671 L 271.255 535.527667 L 290.588795 541.040717 L 313.992864 547.468742 L 343.502341 555.327649 L 384.205068 565.917652 L 452.382136 583.391429 L 474.768636 589.103685 L 474.768636 589.103685" clip-path="url(#p50a0b3da80)" style="fill: none; stroke: #008000; stroke-width: 2; stroke-linecap: square"/>
   </g>
   <g id="line2d_102">
    <path d="M 67.741364 405.965382 L 73.846773 410.994986 L 79.952182 415.706965 L 86.057591 420.130391 L 92.163 424.291679 L 98.268409 428.214824 L 105.391386 432.519808 L 112.514364 436.56145 L 119.637341 440.367652 L 127.777886 444.461183 L 135.918432 448.312738 L 145.076545 452.392562 L 154.234659 456.238983 L 164.410341 460.276967 L 175.603591 464.474333 L 187.814409 468.80826 L 201.042795 473.265112 L 216.306318 478.158696 L 233.604977 483.450797 L 252.938773 489.121872 L 275.325273 495.452106 L 302.799614 502.978966 L 337.396932 512.211785 L 384.205068 524.453625 L 455.434841 542.825782 L 474.768636 547.787045 L 474.768636 547.787045" clip-path="url(#p50a0b3da80)" style="fill: none; stroke-dasharray: 7.4,3.2; stroke-dashoffset: 0; stroke: #000000; stroke-width: 2"/>
   </g>
   <g id="patch_15">
    <path d="M 47.400000 670.920000 L 47.400000 385.320000" style="fill: none; stroke: #000000; stroke-width: 0.8; stroke-linejoin: miter; stroke-linecap: square"/>
   </g>
   <g id="patch_16">
    <path d="M 495.240000 670.920000 L 495.240000 385.320000" style="fill: none; stroke: #000000; stroke-width: 0.8; stroke-linejoin: miter; stroke-linecap: square"/>
   </g>
   <g id="patch_17">
    <path d="M 47.400000 670.920000 L 495.240000 670.920000" style="fill: none; stroke: #000000; stroke-width: 0.8; stroke-linejoin: miter; stroke-linecap: square"/>
   </g>
   <g id="patch_18">
    <path d="M 47.400000 385.320000 L 495.240000 385.320000" style="fill: none; stroke: #000000; stroke-width: 0.8; stroke-linejoin: miter; stroke-linecap: square"/>
   </g>
   <g id="text_58">
    <text style="font-weight: 700; font-size: 11px; text-anchor: middle" x="271.1350" y="379.3200" textLength="116.4900" lengthAdjust="spacing">mu = 0.75 (RWMF)</text>
   </g>
   <g id="legend_3">
    <g id="patch_19">
     <path d="M 417.99 454.36 L 488.12 454.36 
Q 490.12 454.36 490.12 452.36 L 490.12 392.08 
Q 490.12 390.08 488.12 390.08 L 417.99 390.08 
Q 415.99 390.08 415.99 392.08 L 415.99 452.36 
Q 415.99 454.36 417.99 454.36 z" style="fill: #ffffff; opacity: 0.8; stroke: #cccccc; stroke-linejoin: miter"/>
    </g>
    <g id="line2d_103">
     <path d="M 419.99 398.5 L 439.99 398.5 L 439.99 398.5" style="fill: none; stroke: #ff0000; stroke-width: 2; stroke-linecap: square"/>
    </g>
    <g id="text_59">
     <text style="font-size: 10px; text-anchor: start" x="448.2300" y="401.7600" textLength="27.0000" lengthAdjust="spacing">T_hot</text>
    </g>
    <g id="line2d_104">
     <path d="M 419.99 413.82 L 439.99 413.82 L 439.99 413.82" style="fill: none; stroke: #0000ff; stroke-width: 2; stroke-linecap: square"/>
    </g>
    <g id="text_60">
     <text style="font-size: 10px; text-anchor: start" x="448.3500" y="417.0800" textLength="37.9617" lengthAdjust="spacing">T_cold1</text>
    </g>
    <g id="line2d_105">
     <path d="M 419.99 429.14 L 439.99 429.14 L 439.99 429.14" style="fill: none; stroke: #008000; stroke-width: 2; stroke-linecap: square"/>
    </g>
    <g id="text_61">
     <text style="font-size: 10px; text-anchor: start" x="448.3500" y="432.4000" textLength="37.9617" lengthAdjust="spacing">T_cold2</text>
    </g>
    <g id="line2d_106">
     <path d="M 419.99 444.46 L 439.99 444.46 L 439.99 444.46" style="fill: none; stroke-dasharray: 7.4,3.2; stroke-dashoffset: 0; stroke: #000000; stroke-width: 2"/>
    </g>
    <g id="text_62">
     <text style="font-size: 10px; text-anchor: start" x="448.3500" y="447.8400" textLength="29.0583" lengthAdjust="spacing">T_ave</text>
    </g>
   </g>
  </g>
  <g id="axes_4">
   <g id="patch_20">
    <path d="M 546.08 670.84 L 993.81 670.84 L 993.81 385.08 L 546.08 385.08 z" style="fill: #ffffff"/>
   </g>
   <g id="matplotlib.axis_7">
    <g id="xtick_22">
     <g id="line2d_107">
      <path d="M 566.520000 670.920000 L 566.520000 385.320000" clip-path="url(#p0d454d88cb)" style="fill: none; stroke: #b0b0b0; stroke-opacity: 0.3; stroke-width: 0.8; stroke-linecap: square"/>
     </g>
     <g id="line2d_108">
      <g>
       <use href="#m1504cfccaf" x="566.400000" y="670.800000" style="stroke: #000000; stroke-width: 0.8"/>
      </g>
     </g>
     <g id="text_63">
      <text style="font-size: 10px; text-anchor: middle" x="566.9114" y="685.6400">0</text>
     </g>
    </g>
    <g id="xtick_23">
     <g id="line2d_109">
      <path d="M 634.440000 670.920000 L 634.440000 385.320000" clip-path="url(#p0d454d88cb)" style="fill: none; stroke: #b0b0b0; stroke-opacity: 0.3; stroke-width: 0.8; stroke-linecap: square"/>
     </g>
     <g id="line2d_110">
      <g>
       <use href="#m1504cfccaf" x="634.320000" y="670.800000" style="stroke: #000000; stroke-width: 0.8"/>
      </g>
     </g>
     <g id="text_64">
      <text style="font-size: 10px; text-anchor: middle" x="634.3892" y="685.8800">5</text>
     </g>
    </g>
    <g id="xtick_24">
     <g id="line2d_111">
      <path d="M 702.120000 670.920000 L 702.120000 385.320000" clip-path="url(#p0d454d88cb)" style="fill: none; stroke: #b0b0b0; stroke-opacity: 0.3; stroke-width: 0.8; stroke-linecap: square"/>
     </g>
     <g id="line2d_112">
      <g>
       <use href="#m1504cfccaf" x="702.000000" y="670.800000" style="stroke: #000000; stroke-width: 0.8"/>
      </g>
     </g>
     <g id="text_65">
      <text style="font-size: 10px; text-anchor: middle" x="702.2271" y="685.6400" textLength="12.4410" lengthAdjust="spacing">10</text>
     </g>
    </g>
    <g id="xtick_25">
     <g id="line2d_113">
      <path d="M 770.040000 670.920000 L 770.040000 385.320000" clip-path="url(#p0d454d88cb)" style="fill: none; stroke: #b0b0b0; stroke-opacity: 0.3; stroke-width: 0.8; stroke-linecap: square"/>
     </g>
     <g id="line2d_114">
      <g>
       <use href="#m1504cfccaf" x="769.920000" y="670.800000" style="stroke: #000000; stroke-width: 0.8"/>
      </g>
     </g>
     <g id="text_66">
      <text style="font-size: 10px; text-anchor: middle" x="769.9450" y="685.8800" textLength="12.1583" lengthAdjust="spacing">15</text>
     </g>
    </g>
    <g id="xtick_26">
     <g id="line2d_115">
      <path d="M 837.960000 670.920000 L 837.960000 385.320000" clip-path="url(#p0d454d88cb)" style="fill: none; stroke: #b0b0b0; stroke-opacity: 0.3; stroke-width: 0.8; stroke-linecap: square"/>
     </g>
     <g id="line2d_116">
      <g>
       <use href="#m1504cfccaf" x="837.840000" y="670.800000" style="stroke: #000000; stroke-width: 0.8"/>
      </g>
     </g>
     <g id="text_67">
      <text style="font-size: 10px; text-anchor: middle" x="837.7829" y="685.6400">20</text>
     </g>
    </g>
    <g id="xtick_27">
     <g id="line2d_117">
      <path d="M 905.640000 670.920000 L 905.640000 385.320000" clip-path="url(#p0d454d88cb)" style="fill: none; stroke: #b0b0b0; stroke-opacity: 0.3; stroke-width: 0.8; stroke-linecap: square"/>
     </g>
     <g id="line2d_118">
      <g>
       <use href="#m1504cfccaf" x="905.520000" y="670.800000" style="stroke: #000000; stroke-width: 0.8"/>
      </g>
     </g>
     <g id="text_68">
      <text style="font-size: 10px; text-anchor: middle" x="905.6208" y="685.5200">25</text>
     </g>
    </g>
    <g id="xtick_28">
     <g id="line2d_119">
      <path d="M 973.560000 670.920000 L 973.560000 385.320000" clip-path="url(#p0d454d88cb)" style="fill: none; stroke: #b0b0b0; stroke-opacity: 0.3; stroke-width: 0.8; stroke-linecap: square"/>
     </g>
     <g id="line2d_120">
      <g>
       <use href="#m1504cfccaf" x="973.440000" y="670.800000" style="stroke: #000000; stroke-width: 0.8"/>
      </g>
     </g>
     <g id="text_69">
      <text style="font-size: 10px; text-anchor: middle" x="973.3386" y="685.6400" textLength="12.4530" lengthAdjust="spacing">30</text>
     </g>
    </g>
    <g id="text_70">
     <text style="font-size: 10px; text-anchor: middle" x="770.0650" y="699.4800" textLength="52.0606" lengthAdjust="spacing">Time (sec)</text>
    </g>
   </g>
   <g id="matplotlib.axis_8">
    <g id="ytick_23">
     <g id="line2d_121">
      <path d="M 546.120000 657.960000 L 993.960000 657.960000" clip-path="url(#p0d454d88cb)" style="fill: none; stroke: #b0b0b0; stroke-opacity: 0.3; stroke-width: 0.8; stroke-linecap: square"/>
     </g>
     <g id="line2d_122">
      <g>
       <use href="#m5d545ce8f8" x="546.000000" y="657.840000" style="stroke: #000000; stroke-width: 0.8"/>
      </g>
     </g>
     <g id="text_71">
      <text style="font-size: 10px; text-anchor: end" x="539.3200" y="661.4509">0</text>
     </g>
    </g>
    <g id="ytick_24">
     <g id="line2d_123">
      <path d="M 546.120000 625.560000 L 993.960000 625.560000" clip-path="url(#p0d454d88cb)" style="fill: none; stroke: #b0b0b0; stroke-opacity: 0.3; stroke-width: 0.8; stroke-linecap: square"/>
     </g>
     <g id="line2d_124">
      <g>
       <use href="#m5d545ce8f8" x="546.000000" y="625.440000" style="stroke: #000000; stroke-width: 0.8"/>
      </g>
     </g>
     <g id="text_72">
      <text style="font-size: 10px; text-anchor: end" x="539.0800" y="629.1367">20</text>
     </g>
    </g>
    <g id="ytick_25">
     <g id="line2d_125">
      <path d="M 546.120000 593.400000 L 993.960000 593.400000" clip-path="url(#p0d454d88cb)" style="fill: none; stroke: #b0b0b0; stroke-opacity: 0.3; stroke-width: 0.8; stroke-linecap: square"/>
     </g>
     <g id="line2d_126">
      <g>
       <use href="#m5d545ce8f8" x="546.000000" y="593.280000" style="stroke: #000000; stroke-width: 0.8"/>
      </g>
     </g>
     <g id="text_73">
      <text style="font-size: 10px; text-anchor: end" x="538.7200" y="597.0625" textLength="12.4587" lengthAdjust="spacing">40</text>
     </g>
    </g>
    <g id="ytick_26">
     <g id="line2d_127">
      <path d="M 546.120000 561.000000 L 993.960000 561.000000" clip-path="url(#p0d454d88cb)" style="fill: none; stroke: #b0b0b0; stroke-opacity: 0.3; stroke-width: 0.8; stroke-linecap: square"/>
     </g>
     <g id="line2d_128">
      <g>
       <use href="#m5d545ce8f8" x="546.000000" y="560.880000" style="stroke: #000000; stroke-width: 0.8"/>
      </g>
     </g>
     <g id="text_74">
      <text style="font-size: 10px; text-anchor: end" x="538.9600" y="564.6284" textLength="12.4530" lengthAdjust="spacing">60</text>
     </g>
    </g>
    <g id="ytick_27">
     <g id="line2d_129">
      <path d="M 546.120000 528.600000 L 993.960000 528.600000" clip-path="url(#p0d454d88cb)" style="fill: none; stroke: #b0b0b0; stroke-opacity: 0.3; stroke-width: 0.8; stroke-linecap: square"/>
     </g>
     <g id="line2d_130">
      <g>
       <use href="#m5d545ce8f8" x="546.000000" y="528.480000" style="stroke: #000000; stroke-width: 0.8"/>
      </g>
     </g>
     <g id="text_75">
      <text style="font-size: 10px; text-anchor: end" x="538.9600" y="532.1942" textLength="12.4530" lengthAdjust="spacing">80</text>
     </g>
    </g>
    <g id="ytick_28">
     <g id="line2d_131">
      <path d="M 546.120000 496.440000 L 993.960000 496.440000" clip-path="url(#p0d454d88cb)" style="fill: none; stroke: #b0b0b0; stroke-opacity: 0.3; stroke-width: 0.8; stroke-linecap: square"/>
     </g>
     <g id="line2d_132">
      <g>
       <use href="#m5d545ce8f8" x="546.000000" y="496.320000" style="stroke: #000000; stroke-width: 0.8"/>
      </g>
     </g>
     <g id="text_76">
      <text style="font-size: 10px; text-anchor: end" x="538.9600" y="500.1200" textLength="18.8187" lengthAdjust="spacing">100</text>
     </g>
    </g>
    <g id="ytick_29">
     <g id="line2d_133">
      <path d="M 546.120000 464.040000 L 993.960000 464.040000" clip-path="url(#p0d454d88cb)" style="fill: none; stroke: #b0b0b0; stroke-opacity: 0.3; stroke-width: 0.8; stroke-linecap: square"/>
     </g>
     <g id="line2d_134">
      <g>
       <use href="#m5d545ce8f8" x="546.000000" y="463.920000" style="stroke: #000000; stroke-width: 0.8"/>
      </g>
     </g>
     <g id="text_77">
      <text style="font-size: 10px; text-anchor: end" x="538.9600" y="467.5658" textLength="18.8187" lengthAdjust="spacing">120</text>
     </g>
    </g>
    <g id="ytick_30">
     <g id="line2d_135">
      <path d="M 546.120000 431.880000 L 993.960000 431.880000" clip-path="url(#p0d454d88cb)" style="fill: none; stroke: #b0b0b0; stroke-opacity: 0.3; stroke-width: 0.8; stroke-linecap: square"/>
     </g>
     <g id="line2d_136">
      <g>
       <use href="#m5d545ce8f8" x="546.000000" y="431.760000" style="stroke: #000000; stroke-width: 0.8"/>
      </g>
     </g>
     <g id="text_78">
      <text style="font-size: 10px; text-anchor: end" x="538.9600" y="435.4916" textLength="18.8187" lengthAdjust="spacing">140</text>
     </g>
    </g>
    <g id="ytick_31">
     <g id="line2d_137">
      <path d="M 546.120000 399.480000 L 993.960000 399.480000" clip-path="url(#p0d454d88cb)" style="fill: none; stroke: #b0b0b0; stroke-opacity: 0.3; stroke-width: 0.8; stroke-linecap: square"/>
     </g>
     <g id="line2d_138">
      <g>
       <use href="#m5d545ce8f8" x="546.000000" y="399.360000" style="stroke: #000000; stroke-width: 0.8"/>
      </g>
     </g>
     <g id="text_79">
      <text style="font-size: 10px; text-anchor: end" x="538.9600" y="403.0575" textLength="18.8187" lengthAdjust="spacing">160</text>
     </g>
    </g>
    <g id="text_80">
     <text style="font-size: 10px; text-anchor: middle" x="513.3600" y="528.0800" transform="rotate(-90 513.3600 528.0800)" textLength="139.5361" lengthAdjust="spacing">Temperature Difference (°F)</text>
    </g>
   </g>
   <g id="line2d_139">
    <path d="M 566.431364 657.850909 L 570.501636 642.432472 L 574.571909 627.935534 L 578.642182 614.304577 L 582.712455 601.487449 L 586.782727 589.43516 L 590.853 578.10169 L 594.923273 567.443803 L 598.993545 557.420885 L 603.063818 547.994778 L 607.134091 539.129633 L 611.204364 530.791771 L 615.274636 522.949549 L 619.344909 515.573237 L 623.415182 508.634899 L 627.485455 502.108289 L 631.555727 495.968746 L 635.626 490.193095 L 639.696273 484.759561 L 643.766545 479.647682 L 647.836818 474.838229 L 651.907091 470.313131 L 656.994932 465.030863 L 662.082773 460.135505 L 667.170614 455.598427 L 672.258455 451.393138 L 677.346295 447.495122 L 682.434136 443.881687 L 687.521977 440.531836 L 692.609818 437.42613 L 697.697659 434.54658 L 703.803068 431.366287 L 709.908477 428.461302 L 716.013886 425.807524 L 722.119295 423.382978 L 729.242273 420.81744 L 736.36525 418.507928 L 743.488227 416.428586 L 751.628773 414.304365 L 759.769318 412.41963 L 768.927432 410.551655 L 778.085545 408.918089 L 788.261227 407.341842 L 798.436909 405.982943 L 809.630159 404.703089 L 821.840977 403.524686 L 835.069364 402.462453 L 850.332886 401.463967 L 867.631545 400.56793 L 886.965341 399.796911 L 909.351841 399.132886 L 935.808614 398.576612 L 968.370795 398.123104 L 973.458636 398.069091 L 973.458636 398.069091" clip-path="url(#p0d454d88cb)" style="fill: none; stroke: #0000ff; stroke-width: 2; stroke-linecap: square"/>
   </g>
   <g id="line2d_140">
    <path d="M 566.431364 657.850909 L 570.501636 646.975802 L 574.571909 636.809265 L 578.642182 627.305759 L 582.712455 618.422645 L 586.782727 610.119998 L 590.853 602.360437 L 594.923273 595.108964 L 598.993545 588.332814 L 603.063818 582.001312 L 607.134091 576.08574 L 611.204364 570.559215 L 615.274636 565.396573 L 619.344909 560.574259 L 623.415182 556.070223 L 627.485455 551.863829 L 631.555727 547.935762 L 635.626 544.267944 L 639.696273 540.843456 L 644.784114 536.881009 L 649.871955 533.245394 L 654.959795 529.910194 L 660.047636 526.851092 L 665.135477 524.045717 L 670.223318 521.473482 L 675.311159 519.115445 L 681.416568 516.544107 L 687.521977 514.228716 L 693.627386 512.144415 L 700.750364 509.974927 L 707.873341 508.057431 L 714.996318 506.363444 L 723.136864 504.668794 L 731.277409 503.199765 L 740.435523 501.780681 L 750.611205 500.452186 L 760.786886 499.344607 L 771.980136 498.339309 L 785.208523 497.387205 L 799.454477 496.590603 L 815.735568 495.905442 L 835.069364 495.324906 L 858.473432 494.861092 L 887.982909 494.518367 L 927.668068 494.299732 L 973.458636 494.213819 L 973.458636 494.213819" clip-path="url(#p0d454d88cb)" style="fill: none; stroke: #008000; stroke-width: 2; stroke-linecap: square"/>
   </g>
   <g id="patch_21">
    <path d="M 546.120000 670.920000 L 546.120000 385.320000" style="fill: none; stroke: #000000; stroke-width: 0.8; stroke-linejoin: miter; stroke-linecap: square"/>
   </g>
   <g id="patch_22">
    <path d="M 993.960000 670.920000 L 993.960000 385.320000" style="fill: none; stroke: #000000; stroke-width: 0.8; stroke-linejoin: miter; stroke-linecap: square"/>
   </g>
   <g id="patch_23">
    <path d="M 546.120000 670.920000 L 993.960000 670.920000" style="fill: none; stroke: #000000; stroke-width: 0.8; stroke-linejoin: miter; stroke-linecap: square"/>
   </g>
   <g id="patch_24">
    <path d="M 546.120000 385.320000 L 993.960000 385.320000" style="fill: none; stroke: #000000; stroke-width: 0.8; stroke-linejoin: miter; stroke-linecap: square"/>
   </g>
   <g id="text_81">
    <text style="font-weight: 700; font-size: 11px; text-anchor: middle" x="769.8250" y="379.3200" textLength="231.8413" lengthAdjust="spacing">Temperature Differences (mu = 0.75)</text>
   </g>
   <g id="legend_4">
    <g id="patch_25">
     <path d="M 553.08 423.72 L 694.61 423.72 
Q 696.61 423.72 696.61 421.72 L 696.61 392.08 
Q 696.61 390.08 694.61 390.08 L 553.08 390.08 
Q 551.08 390.08 551.08 392.08 L 551.08 421.72 
Q 551.08 423.72 553.08 423.72 z" style="fill: #ffffff; opacity: 0.8; stroke: #cccccc; stroke-linejoin: miter"/>
    </g>
    <g id="line2d_141">
     <path d="M 555.08 398.5 L 575.08 398.5 L 575.08 398.5" style="fill: none; stroke: #0000ff; stroke-width: 2; stroke-linecap: square"/>
    </g>
    <g id="text_82">
     <text style="font-size: 10px; text-anchor: start" x="582.8400" y="401.7600">ΔT1 = T_hot - T_cold1</text>
    </g>
    <g id="line2d_142">
     <path d="M 555.08 413.82 L 575.08 413.82 L 575.08 413.82" style="fill: none; stroke: #008000; stroke-width: 2; stroke-linecap: square"/>
    </g>
    <g id="text_83">
     <text style="font-size: 10px; text-anchor: start" x="582.8400" y="417.0800">ΔT2 = T_hot - T_cold2</text>
    </g>
   </g>
  </g>
  <g id="text_84">
   <text style="font-weight: 700; font-size: 14px; text-anchor: middle" x="500.6100" y="18.0000" textLength="461.6016" lengthAdjust="spacing">Unequally Loaded Steam Generators (Q1=120%, Q2=80%)</text>
  </g>
 </g>
 <defs>
  <clipPath id="p51428ca9a6">
   <rect x="47.39" y="42.72" width="447.73" height="285.76"/>
  </clipPath>
  <clipPath id="p2e50a3cce2">
   <rect x="546.08" y="42.72" width="447.73" height="285.76"/>
  </clipPath>
  <clipPath id="p50a0b3da80">
   <rect x="47.39" y="385.08" width="447.73" height="285.76"/>
  </clipPath>
  <clipPath id="p0d454d88cb">
   <rect x="546.08" y="385.08" width="447.73" height="285.76"/>
  </clipPath>
 </defs>
</svg>

</body></html>
